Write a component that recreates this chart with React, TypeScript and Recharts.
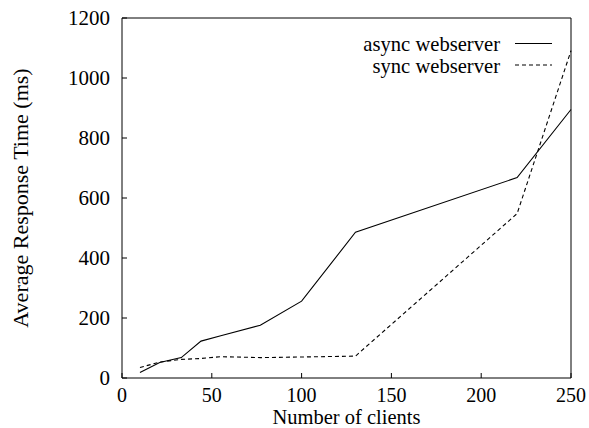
import React from 'react';
import { LineChart, Line, XAxis, YAxis, Legend } from 'recharts';

const clients = [10, 21, 33, 44, 55, 77, 100, 130, 220, 250];
const asyncTimes = [18, 52, 68, 123, 141, 176, 256, 486, 668, 895];
const syncTimes = [35, 53, 62, 65, 71, 68, 70, 73, 548, 1091];

const xTicks = [0, 50, 100, 150, 200, 250];
const yTicks = [0, 200, 400, 600, 800, 1000, 1200];

const series = [
  { key: 'async', name: 'async webserver', dash: undefined as string | undefined },
  { key: 'sync', name: 'sync webserver', dash: '4 3' },
];

const data = clients.map((c, i) => ({ clients: c, async: asyncTimes[i], sync: syncTimes[i] }));

const FONT = '"Liberation Serif", "Times New Roman", serif';
const yTickStyle = { fill: '#000', fontSize: 21, fontFamily: FONT };
const xTickStyle = { fill: '#000', fontSize: 20, fontFamily: FONT };

const LegendBox = () => (
  <svg width={210} height={50} style={{ display: 'block' }}>
    {series.map((s, i) => {
      const base = 19 + i * 21.5;
      return (
        <g key={s.key}>
          <text x={145} y={base} textAnchor="end" fontSize={20.6} fontFamily={FONT} fill="#000">
            {s.name}
          </text>
          <line x1={160} x2={197} y1={base - 7.5} y2={base - 7.5} stroke="#000" strokeWidth={1.1} strokeDasharray={s.dash} />
        </g>
      );
    })}
  </svg>
);

const YTitle = ({ viewBox }: any) => {
  const cx = viewBox.x + 20;
  const cy = viewBox.y + viewBox.height / 2;
  return (
    <text x={cx} y={cy} transform={`rotate(-90 ${cx} ${cy})`} textAnchor="middle" dominantBaseline="central"
      fontSize={22} fontFamily={FONT} fill="#000">
      Average Response Time (ms)
    </text>
  );
};

const XTitle = ({ viewBox }: any) => (
  <text x={viewBox.x + viewBox.width / 2} y={viewBox.y + 46} textAnchor="middle"
    fontSize={20.5} fontFamily={FONT} fill="#000">
    Number of clients
  </text>
);

export default function App() {
  return (
    <div style={{ position: 'absolute', left: 0, top: 0, background: '#fff' }}>
      <LineChart width={589} height={428} data={data} margin={{ top: 0, right: 0, bottom: 0, left: 0 }}
        style={{ fontFamily: FONT }}>
        <XAxis dataKey="clients" type="number" domain={[0, 250]} ticks={xTicks} height={50}
          stroke="#000" tick={xTickStyle} tickSize={-5} tickMargin={14.3} label={<XTitle />} />
        <XAxis xAxisId="top" orientation="top" dataKey="clients" type="number" domain={[0, 250]} ticks={xTicks}
          height={18} stroke="#000" tick={false} tickSize={5} />
        <YAxis type="number" domain={[0, 1200]} ticks={yTicks} width={122} stroke="#000" tick={yTickStyle}
          tickSize={-5} tickMargin={17} label={<YTitle />} />
        <YAxis yAxisId="right" orientation="right" type="number" domain={[0, 1200]} ticks={yTicks} width={18}
          stroke="#000" tick={false} tickSize={5} />
        <Legend layout="vertical" align="center" verticalAlign="middle" content={<LegendBox />}
          wrapperStyle={{ left: 355, top: 32, width: 210, height: 50 }} />
        <Line dataKey="async" name="async webserver" stroke="#000" strokeWidth={1.1} dot={false}
          isAnimationActive={false} />
        <Line dataKey="sync" name="sync webserver" stroke="#000" strokeWidth={1.1} strokeDasharray="4 3"
          dot={false} isAnimationActive={false} />
      </LineChart>
    </div>
  );
}
